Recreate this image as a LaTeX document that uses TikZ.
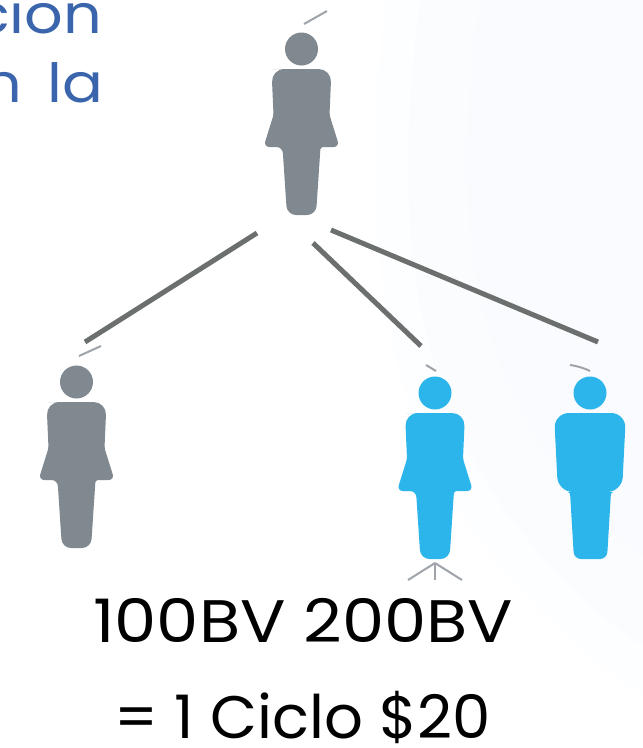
\documentclass[tikz,border=0pt]{standalone}
\usepackage{fontspec}
\setmainfont{Poppins}
\newfontfamily\sumwide[FakeStretch=1.12]{Poppins}
\newfontfamily\sumnarrow[FakeStretch=1.015]{Poppins}
\newfontfamily\introwide[FakeStretch=1.12]{Poppins}
\definecolor{inkblue}{HTML}{3A65AD}
\definecolor{figgray}{HTML}{808890}
\definecolor{figblue}{HTML}{2CB5EA}
\definecolor{linkgray}{HTML}{6B6F6D}
\definecolor{tickgray}{HTML}{9FA4AA}
\definecolor{washA}{HTML}{FDFEFF}
\definecolor{washB}{HTML}{FBFCFE}
\definecolor{washC}{HTML}{F9FBFE}
\tikzset{
  x=1pt,y=-1pt,
  link/.style={draw=linkgray,line width=5pt},
  tick/.style={draw=tickgray,line width=2pt},
  bigtext/.style={anchor=base west,inner sep=0pt},
  introtext/.style={anchor=base west,inner sep=0pt,text=inkblue,font=\introwide\fontsize{54}{54}\selectfont},
  woman/.pic={
    \fill[pic actions] (0,0) circle[radius=16.5];
    \fill[pic actions] [rounded corners=5pt]
      (-16,20) [rounded corners=13pt] -- (-30,20) [rounded corners=2pt] -- (-28,66)
      [rounded corners=6pt] -- (-38,98) -- (-19,98) [rounded corners=9pt] -- (-14.5,166)
      -- (14.5,166) [rounded corners=2pt] -- (19,98) [rounded corners=6pt] -- (38,98)
      [rounded corners=2pt] -- (28,66) [rounded corners=13pt] -- (30,20) -- cycle;
  },
  man/.pic={
    \fill[pic actions] (0,0) circle[radius=16.5];
    \fill[pic actions]
      (0,20) [rounded corners=15pt] -- (-36,20) -- (-32,99) [rounded corners=2pt] -- (-20,99)
      [rounded corners=7pt] -- (-16,166) -- (17,166) [rounded corners=2pt] -- (21,99)
      [rounded corners=15pt] -- (32,99) -- (36,20) -- cycle;
  },
}
\begin{document}
\begin{tikzpicture}
\useasboundingbox (0,0) rectangle (643,748);
\clip (0,0) rectangle (643,748);
\fill[white] (0,0) rectangle (643,748);
\fill[washA] (385,0) .. controls (365,200) and (370,400) .. (480,540) .. controls (530,610) and (590,660) .. (643,695) -- (643,0) -- cycle;
\fill[washB] (420,0) .. controls (395,200) and (405,370) .. (505,510) .. controls (550,570) and (600,620) .. (643,645) -- (643,0) -- cycle;
\fill[washC] (480,0) .. controls (450,200) and (470,340) .. (550,460) .. controls (585,510) and (615,540) .. (643,555) -- (643,0) -- cycle;

\node[introtext] (introA) at (-27,33) {cion};
\node[introtext] (introB) at (-17,102) {n\hspace{26pt}la};

\pic[fill=figgray] at (301.5,49) {woman};
\pic[fill=figgray] at (76.5,382) {woman};
\pic[fill=figblue] at (435,393) {woman};
\pic[fill=figblue] at (590,393) {man};

\coordinate (topA) at (257,233);
\coordinate (leftA) at (85,342);
\coordinate (topB) at (313,243);
\coordinate (midA) at (421,346);
\coordinate (topC) at (331,230);
\coordinate (rightA) at (598,342);
\draw[link] (topA) -- (leftA);
\draw[link] (topB) -- (midA);
\draw[link] (topC) -- (rightA);

\coordinate (tickTopA) at (304,24);
\coordinate (tickTopB) at (327,11);
\coordinate (tickLeftA) at (79,356);
\coordinate (tickLeftB) at (101,346);
\coordinate (tickMidA) at (426,365);
\coordinate (tickMidB) at (436,371);
\coordinate (tickRightA) at (570,365);
\coordinate (tickRightB) at (590,371);
\draw[tick] (tickTopA) -- (tickTopB);
\draw[tick] (tickLeftA) -- (tickLeftB);
\draw[tick] (tickMidA) -- (tickMidB);
\draw[tick] (tickRightA) to[bend left=8] (tickRightB);

\coordinate (forkTop) at (435,563);
\coordinate (forkL) at (408,580);
\coordinate (forkM) at (435,580);
\coordinate (forkR) at (462,580);
\draw[tick] (forkTop) -- (forkL);
\draw[tick] (forkTop) -- (forkM);
\draw[tick] (forkTop) -- (forkR);

\node[bigtext,font=\sumwide\fontsize{60}{60}\selectfont] (sumA) at (93,642) {100BV 200BV};
\node[bigtext,font=\sumnarrow\fontsize{60}{60}\selectfont] (sumB) at (114,738) {= 1 Ciclo \$20};
\end{tikzpicture}
\end{document}
